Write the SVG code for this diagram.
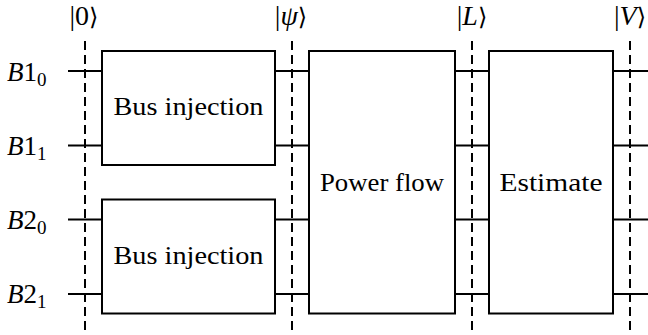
<svg xmlns="http://www.w3.org/2000/svg" width="648" height="335" viewBox="0 0 648 335">
<style>
.box{fill:#fff;stroke:#000;stroke-width:2}
.wire{stroke:#000;stroke-width:2;fill:none}
.dash{stroke:#000;stroke-width:2;stroke-dasharray:9,5;fill:none}
</style>
<rect width="648" height="335" fill="#fff"/>
<g id="connectors">
<path class="wire" d="M68 71H102M275 71H309M455 71H489M613 71H648"/>
<path class="wire" d="M68 145.5H102M275 145.5H309M455 145.5H489M613 145.5H648"/>
<path class="wire" d="M68 219.5H102M275 219.5H309M455 219.5H489M613 219.5H648"/>
<path class="wire" d="M68 294H102M275 294H309M455 294H489M613 294H648"/>
<path class="dash" d="M85 41V330M292 41V330M472 41V330M630 41V330"/>
</g>
<g id="labels">
<text x="7" y="81" font-family="Liberation Serif" font-size="27"><tspan font-style="italic">B</tspan>1<tspan font-size="19" dy="5">0</tspan></text>
<text x="7" y="155" font-family="Liberation Serif" font-size="27"><tspan font-style="italic">B</tspan>1<tspan font-size="19" dy="5">1</tspan></text>
<text x="7" y="229" font-family="Liberation Serif" font-size="27"><tspan font-style="italic">B</tspan>2<tspan font-size="19" dy="5">0</tspan></text>
<text x="7" y="303" font-family="Liberation Serif" font-size="27"><tspan font-style="italic">B</tspan>2<tspan font-size="19" dy="5">1</tspan></text>
</g>
<g id="kets">
<text x="84" y="25" font-family="Liberation Serif" font-size="28" text-anchor="middle">|0<tspan font-family="DejaVu Sans" font-size="24">⟩</tspan></text>
<text x="291" y="25" font-family="Liberation Serif" font-size="28" text-anchor="middle">|<tspan font-style="italic">ψ</tspan><tspan font-family="DejaVu Sans" font-size="24">⟩</tspan></text>
<text x="472" y="25" font-family="Liberation Serif" font-size="28" text-anchor="middle">|<tspan font-style="italic">L</tspan><tspan font-family="DejaVu Sans" font-size="24">⟩</tspan></text>
<text x="630" y="25" font-family="Liberation Serif" font-size="28" text-anchor="middle">|<tspan font-style="italic">V</tspan><tspan font-family="DejaVu Sans" font-size="24">⟩</tspan></text>
</g>
<g id="bus1">
<rect class="box" x="102" y="51" width="173" height="114"/>
<text x="188.5" y="115" font-family="Liberation Serif" font-size="26" text-anchor="middle" textLength="150" lengthAdjust="spacingAndGlyphs">Bus injection</text>
</g>
<g id="bus2">
<rect class="box" x="102" y="199.5" width="173" height="114"/>
<text x="188.5" y="264" font-family="Liberation Serif" font-size="26" text-anchor="middle" textLength="150" lengthAdjust="spacingAndGlyphs">Bus injection</text>
</g>
<g id="powerflow">
<rect class="box" x="309" y="51" width="146" height="262.5"/>
<text x="382" y="191" font-family="Liberation Serif" font-size="26" text-anchor="middle" textLength="124" lengthAdjust="spacingAndGlyphs">Power flow</text>
</g>
<g id="estimate">
<rect class="box" x="489" y="51" width="124" height="262.5"/>
<text x="551" y="191" font-family="Liberation Serif" font-size="26" text-anchor="middle" textLength="103" lengthAdjust="spacingAndGlyphs">Estimate</text>
</g>
</svg>
